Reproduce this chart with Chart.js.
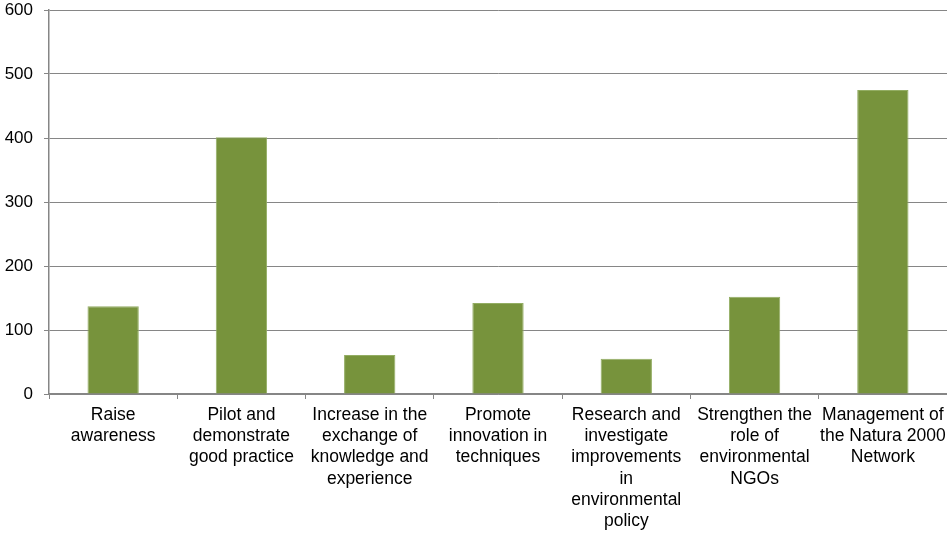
<!DOCTYPE html>
<html>
<head>
<meta charset="utf-8">
<script src="https://cdn.jsdelivr.net/npm/chart.js@4"></script>
<style>
  html, body { margin: 0; padding: 0; background: #fff; }
  #wrap { width: 947px; height: 533px; }
</style>
</head>
<body>
<div id="wrap"><canvas id="chart"></canvas></div>
<script>
const categories = [
    ['Raise', 'awareness'],
    ['Pilot and', 'demonstrate', 'good practice'],
    ['Increase in the', 'exchange of', 'knowledge and', 'experience'],
    ['Promote', 'innovation in', 'techniques'],
    ['Research and', 'investigate', 'improvements', 'in', 'environmental', 'policy'],
    ['Strengthen the', 'role of', 'environmental', 'NGOs'],
    ['Management of', 'the Natura 2000', 'Network']
];
const projects = [137, 401, 61, 142, 55, 152, 475];
const yTicks = [0, 100, 200, 300, 400, 500, 600];

const axisGray = '#868686';
const fontFamily = '"Liberation Sans", Arial, sans-serif';

const ctx = document.getElementById('chart').getContext('2d');
const chart = new Chart(ctx, {
    type: 'bar',
    data: {
        labels: categories,
        datasets: [{
            data: projects,
            backgroundColor: '#77933C',
            borderColor: '#93ad63',
            borderWidth: 1,
            barPercentage: 0.4,
            categoryPercentage: 1.0
        }]
    },
    options: {
        responsive: true,
        maintainAspectRatio: false,
        animation: false,
        layout: { autoPadding: false, padding: { left: 5, right: 0, top: 10, bottom: 0 } },
        plugins: {
            legend: { display: false },
            tooltip: { enabled: false }
        },
        scales: {
            x: {
                afterFit: axis => {
                    axis.height = 139;
                    axis.paddingLeft = 0;
                    axis.paddingRight = 0;
                    axis.paddingTop = 0;
                    axis.paddingBottom = 0;
                },
                grid: {
                    drawOnChartArea: false,
                    drawTicks: true,
                    tickLength: 5,
                    color: axisGray
                },
                border: { color: axisGray, width: 1.5 },
                ticks: {
                    autoSkip: false,
                    maxRotation: 0,
                    padding: 5,
                    color: '#000',
                    font: { family: fontFamily, size: 17.5, lineHeight: 1.22 }
                }
            },
            y: {
                min: 0,
                max: 600,
                afterBuildTicks: axis => { axis.ticks = yTicks.map(v => ({ value: v })); },
                afterFit: axis => {
                    axis.width = 44;
                    axis.paddingLeft = 0;
                    axis.paddingRight = 0;
                    axis.paddingTop = 0;
                    axis.paddingBottom = 0;
                },
                grid: {
                    color: axisGray,
                    tickLength: 5,
                    lineWidth: 1
                },
                border: { color: axisGray, width: 1.5 },
                ticks: {
                    padding: 11,
                    color: '#000',
                    font: { family: fontFamily, size: 17 }
                }
            }
        }
    }
});
</script>
</body>
</html>
